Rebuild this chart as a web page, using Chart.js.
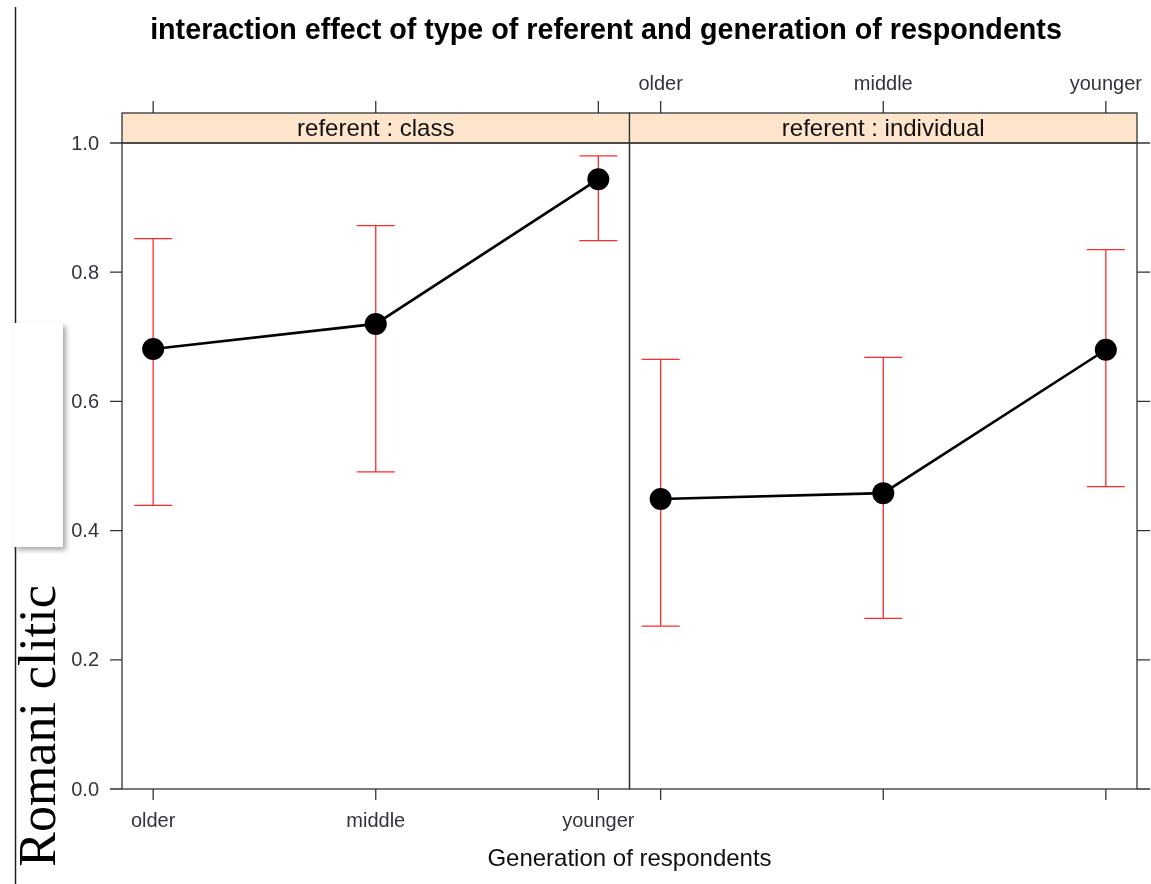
<!DOCTYPE html>
<html>
<head>
<meta charset="utf-8">
<script src="https://cdn.jsdelivr.net/npm/chart.js@4"></script>
<style>
  html, body { margin: 0; padding: 0; background: #fff; }
  #wrap { position: relative; width: 1151px; height: 884px; }
  canvas { display: block; }
</style>
</head>
<body>
<div id="wrap"><canvas id="c" width="1151" height="884"></canvas></div>
<script>
// ---- data ----
const generations = ["older", "middle", "younger"];
const panels = ["referent : class", "referent : individual"];
const classFit   = [0.681, 0.720, 0.944];
const classLower = [0.439, 0.491, 0.849];
const classUpper = [0.852, 0.872, 0.980];
const indivFit   = [0.449, 0.458, 0.680];
const indivLower = [0.252, 0.264, 0.468];
const indivUpper = [0.665, 0.668, 0.835];
const yTicks = [0.0, 0.2, 0.4, 0.6, 0.8, 1.0];
const yTickLabels = ["0.0", "0.2", "0.4", "0.6", "0.8", "1.0"];
const titleText = "interaction effect of type of referent and generation of respondents";
const xTitle = "Generation of respondents";
const yTitle = "Romani clitic";

// panel geometry in category units
const PAD = 0.14;
const SPAN = generations.length - 1 + 2 * PAD;
const offsets = [0, SPAN];
const fits = [classFit, indivFit];
const lowers = [classLower, indivLower];
const uppers = [classUpper, indivUpper];

function pts(arr, off) { return arr.map((v, i) => ({ x: off + i, y: v })); }

const SANS = '"Liberation Sans", Arial, sans-serif';
const FRAME = '#333333';
const TXT = '#333340';

const latticePlugin = {
  id: 'lattice',
  beforeDatasetsDraw(chart) {
    const ctx = chart.ctx, xs = chart.scales.x, ys = chart.scales.y;
    ctx.save();
    ctx.strokeStyle = '#ff2a2a';
    ctx.lineWidth = 1.3;
    const cap = 19;
    for (let p = 0; p < 2; p++) {
      for (let i = 0; i < generations.length; i++) {
        const x = xs.getPixelForValue(offsets[p] + i);
        const yl = ys.getPixelForValue(lowers[p][i]);
        const yu = ys.getPixelForValue(uppers[p][i]);
        ctx.beginPath();
        ctx.moveTo(x, yl); ctx.lineTo(x, yu);
        ctx.moveTo(x - cap, yl); ctx.lineTo(x + cap, yl);
        ctx.moveTo(x - cap, yu); ctx.lineTo(x + cap, yu);
        ctx.stroke();
      }
    }
    ctx.restore();
  },
  afterDraw(chart) {
    const ctx = chart.ctx, xs = chart.scales.x, ys = chart.scales.y;
    const area = chart.chartArea;
    const top = area.top, bottom = area.bottom;
    const stripH = 30;
    ctx.save();
    ctx.lineWidth = 1.3;
    ctx.strokeStyle = FRAME;

    // panels and strips
    for (let p = 0; p < 2; p++) {
      const x0 = xs.getPixelForValue(offsets[p] - PAD);
      const x1 = xs.getPixelForValue(offsets[p] + SPAN - PAD);
      ctx.fillStyle = '#ffe5cc';
      ctx.fillRect(x0, top - stripH, x1 - x0, stripH);
      ctx.strokeRect(x0, top - stripH, x1 - x0, stripH);
      ctx.strokeRect(x0, top, x1 - x0, bottom - top);
      ctx.fillStyle = '#111';
      ctx.font = '24px ' + SANS;
      ctx.textAlign = 'center';
      ctx.textBaseline = 'middle';
      ctx.fillText(panels[p], (x0 + x1) / 2, top - stripH / 2 + 1);

      // x ticks bottom and top
      for (let i = 0; i < generations.length; i++) {
        const x = xs.getPixelForValue(offsets[p] + i);
        ctx.beginPath();
        ctx.moveTo(x, bottom); ctx.lineTo(x, bottom + 11);
        ctx.moveTo(x, top - stripH); ctx.lineTo(x, top - stripH - 12);
        ctx.stroke();
        ctx.fillStyle = TXT;
        ctx.font = '20px ' + SANS;
        if (p === 0) ctx.fillText(generations[i], x, 821);
        else ctx.fillText(generations[i], x, 84);
      }
    }

    // y ticks
    ctx.font = '20px ' + SANS;
    ctx.fillStyle = TXT;
    ctx.textAlign = 'right';
    ctx.textBaseline = 'middle';
    for (let k = 0; k < yTicks.length; k++) {
      const y = ys.getPixelForValue(yTicks[k]);
      ctx.beginPath();
      ctx.moveTo(area.left - 12, y); ctx.lineTo(area.left, y);
      ctx.moveTo(area.right, y); ctx.lineTo(area.right + 13, y);
      ctx.stroke();
      ctx.fillText(yTickLabels[k], area.left - 23, y + 1);
    }

    // titles
    ctx.fillStyle = '#000';
    ctx.textAlign = 'center';
    ctx.font = 'bold 28.7px ' + SANS;
    ctx.fillText(titleText, 606, 31);
    ctx.fillStyle = '#111';
    ctx.font = '24px ' + SANS;
    ctx.fillText(xTitle, (area.left + area.right) / 2, 859);

    // left vertical rule
    ctx.strokeStyle = '#222';
    ctx.lineWidth = 1.5;
    ctx.beginPath();
    ctx.moveTo(15.5, 7); ctx.lineTo(15.5, 884);
    ctx.stroke();

    // white box with shadow
    ctx.save();
    ctx.shadowColor = 'rgba(0,0,0,0.35)';
    ctx.shadowOffsetX = 3;
    ctx.shadowOffsetY = 3;
    ctx.shadowBlur = 5;
    ctx.fillStyle = '#fff';
    ctx.fillRect(14, 323, 49, 224);
    ctx.restore();

    // rotated y title
    ctx.save();
    ctx.translate(55, 726);
    ctx.rotate(-Math.PI / 2);
    ctx.fillStyle = '#000';
    ctx.font = '52px "Liberation Serif", "Times New Roman", serif';
    ctx.textAlign = 'center';
    ctx.textBaseline = 'alphabetic';
    ctx.fillText(yTitle, 0, 0);
    ctx.restore();

    ctx.restore();
  }
};

new Chart(document.getElementById('c'), {
  type: 'line',
  data: {
    datasets: [0, 1].map(p => ({
      label: panels[p],
      data: pts(fits[p], offsets[p]),
      borderColor: '#000',
      backgroundColor: '#000',
      borderWidth: 2.6,
      pointRadius: 11,
      pointHoverRadius: 11,
      pointBackgroundColor: '#000',
      pointBorderWidth: 0,
      tension: 0,
      clip: false
    }))
  },
  options: {
    responsive: false,
    animation: false,
    devicePixelRatio: 1,
    events: [],
    layout: { padding: { left: 122, right: 14, top: 143, bottom: 95 } },
    plugins: { legend: { display: false }, title: { display: false }, tooltip: { enabled: false } },
    scales: {
      x: { type: 'linear', min: -PAD, max: 2 * SPAN - PAD, display: false },
      y: { min: 0, max: 1, display: false }
    }
  },
  plugins: [latticePlugin]
});
</script>
</body>
</html>
